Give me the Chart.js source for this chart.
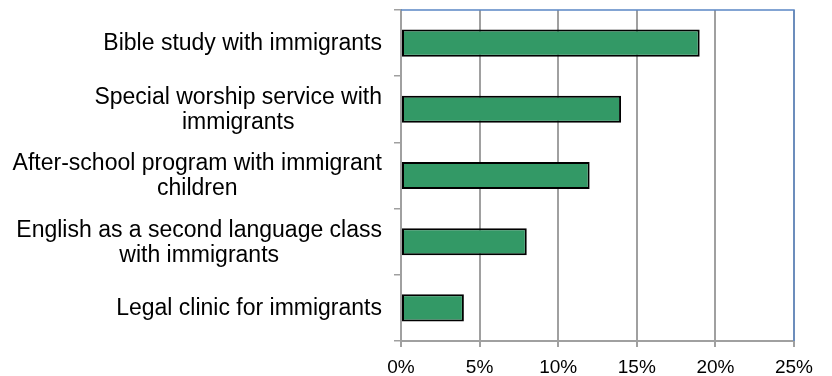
<!DOCTYPE html>
<html>
<head>
<meta charset="utf-8">
<script src="https://cdn.jsdelivr.net/npm/chart.js@4"></script>
<style>
  html, body { margin:0; padding:0; background:#fff; }
  #wrap { width:832px; height:376px; }
</style>
</head>
<body>
<div id="wrap"><canvas id="chart" width="832" height="376"></canvas></div>
<script>
const categories = [
  ['Bible study with immigrants'],
  ['Special worship service with', 'immigrants'],
  ['After-school program with immigrant', 'children'],
  ['English as a second language class', 'with immigrants'],
  ['Legal clinic for immigrants']
];
const values = [19, 14, 12, 8, 4];
const xTicks = [0, 5, 10, 15, 20, 25];

// blue frame on top and right of the plot area
const frame = {
  id: 'frame',
  afterDraw(c){
    const a = c.chartArea, ctx = c.ctx;
    ctx.save();
    ctx.strokeStyle = '#5b87c5';
    ctx.lineWidth = 1.5;
    ctx.beginPath();
    ctx.moveTo(a.left, a.top);
    ctx.lineTo(a.right, a.top);
    ctx.lineTo(a.right, a.bottom);
    ctx.stroke();
    ctx.restore();
  }
};

// category labels: block right-aligned to the axis, lines centred inside the block
const catLabels = {
  id: 'catLabels',
  afterDraw(c){
    const ys = c.scales.y, ctx = c.ctx;
    const lh = 25, rightEdge = ys.right - 19;
    ctx.save();
    ctx.font = '23px "Liberation Sans", Arial';
    ctx.fillStyle = '#000';
    ctx.textAlign = 'center';
    ctx.textBaseline = 'middle';
    c.data.labels.forEach((lines, i) => {
      const yc = ys.getPixelForValue(i);
      const w = Math.max(...lines.map(l => ctx.measureText(l).width));
      const cx = rightEdge - w / 2;
      const y0 = yc - (lines.length - 1) * lh / 2;
      lines.forEach((l, j) => ctx.fillText(l, cx, y0 + j * lh + 1));
    });
    ctx.restore();
  }
};

const ctx = document.getElementById('chart').getContext('2d');
new Chart(ctx, {
  type: 'bar',
  data: {
    labels: categories,
    datasets: [{
      data: values,
      backgroundColor: '#339966',
      borderColor: '#000',
      borderWidth: 2,
      borderSkipped: false,
      categoryPercentage: 1,
      barPercentage: 0.41
    }]
  },
  options: {
    indexAxis: 'y',
    responsive: false,
    animation: false,
    layout: { padding: { top: 10, right: 38, left: 0, bottom: 0 } },
    plugins: { legend: { display: false }, tooltip: { enabled: false } },
    scales: {
      x: {
        min: 0, max: 25,
        afterBuildTicks: s => { s.ticks = xTicks.map(v => ({ value: v })); },
        ticks: { callback: v => v + '%', color: '#000', font: { family: 'Liberation Sans, Arial', size: 19 }, padding: 9, maxRotation: 0 },
        grid: { color: '#a0a0a0', lineWidth: 2, tickLength: 6 },
        border: { color: '#a0a0a0', width: 2 },
        afterFit: s => { s.height = 35; s.paddingLeft = 0; s.paddingRight = 0; }
      },
      y: {
        ticks: { display: false },
        grid: { offset: true, drawOnChartArea: false, color: '#a0a0a0', lineWidth: 1.5, tickLength: 7 },
        border: { color: '#a0a0a0', width: 2 },
        afterFit: s => { s.width = 401; s.paddingTop = 0; s.paddingBottom = 0; }
      }
    }
  },
  plugins: [frame, catLabels]
});
</script>
</body>
</html>
